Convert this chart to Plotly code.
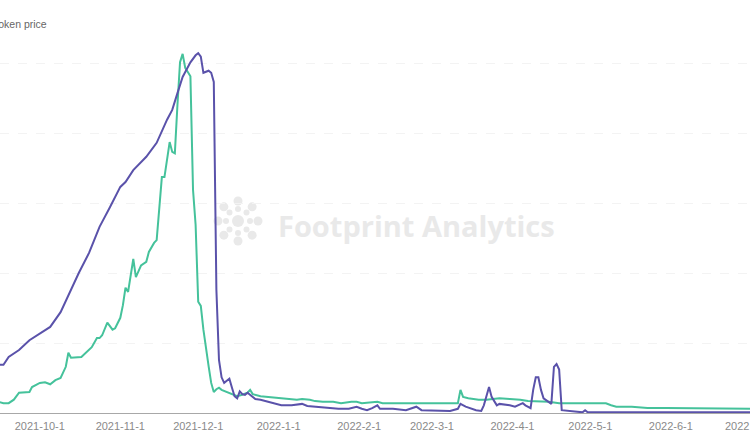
import plotly.graph_objects as go
import math

# ---- data ----
purple_dates = ["2021-09-13","2021-09-15","2021-09-17","2021-09-19","2021-09-23","2021-09-27","2021-10-01","2021-10-05","2021-10-09","2021-10-13","2021-10-16","2021-10-20","2021-10-24","2021-10-28","2021-11-01","2021-11-03","2021-11-06","2021-11-11","2021-11-15","2021-11-19","2021-11-21","2021-11-23","2021-11-25","2021-11-28","2021-11-30","2021-12-01","2021-12-02","2021-12-03","2021-12-05","2021-12-06","2021-12-07","2021-12-08","2021-12-09","2021-12-10","2021-12-11","2021-12-12","2021-12-13","2021-12-14","2021-12-15","2021-12-16","2021-12-17","2021-12-18","2021-12-19","2021-12-20","2021-12-21","2021-12-23","2021-12-25","2021-12-28","2022-01-02","2022-01-06","2022-01-10","2022-01-12","2022-01-15","2022-01-18","2022-01-20","2022-01-24","2022-01-28","2022-01-31","2022-02-02","2022-02-04","2022-02-06","2022-02-08","2022-02-09","2022-02-14","2022-02-19","2022-02-23","2022-02-25","2022-03-03","2022-03-08","2022-03-11","2022-03-12","2022-03-14","2022-03-18","2022-03-20","2022-03-21","2022-03-23","2022-03-24","2022-03-26","2022-03-27","2022-03-31","2022-04-02","2022-04-05","2022-04-06","2022-04-08","2022-04-09","2022-04-10","2022-04-11","2022-04-12","2022-04-13","2022-04-16","2022-04-17","2022-04-18","2022-04-19","2022-04-20","2022-04-22","2022-04-28","2022-04-29","2022-04-30","2022-05-05","2022-05-23","2022-06-07","2022-06-22","2022-07-02"]
purple_values = [0.69,0.69,0.69,0.80,0.90,1.04,1.14,1.23,1.44,1.76,2.00,2.29,2.66,2.94,3.23,3.30,3.47,3.66,3.86,4.19,4.33,4.57,4.80,5.01,5.11,5.14,5.09,4.86,4.89,4.86,4.73,1.76,0.76,0.51,0.43,0.46,0.49,0.36,0.24,0.21,0.31,0.27,0.26,0.29,0.26,0.20,0.19,0.16,0.11,0.11,0.13,0.10,0.09,0.07,0.07,0.06,0.06,0.09,0.06,0.04,0.07,0.11,0.06,0.06,0.04,0.09,0.04,0.03,0.03,0.06,0.13,0.09,0.04,0.03,0.11,0.37,0.23,0.11,0.13,0.11,0.09,0.14,0.11,0.07,0.33,0.51,0.51,0.33,0.21,0.13,0.66,0.70,0.62,0.04,0.03,0.01,0.04,0.01,0.01,0.01,0.01,0.02,0.01]

green_dates = ["2021-09-13","2021-09-15","2021-09-17","2021-09-19","2021-09-21","2021-09-23","2021-09-27","2021-09-28","2021-10-01","2021-10-03","2021-10-05","2021-10-07","2021-10-09","2021-10-11","2021-10-12","2021-10-13","2021-10-17","2021-10-19","2021-10-21","2021-10-23","2021-10-24","2021-10-25","2021-10-27","2021-10-29","2021-10-30","2021-11-01","2021-11-02","2021-11-03","2021-11-04","2021-11-06","2021-11-07","2021-11-09","2021-11-11","2021-11-12","2021-11-14","2021-11-15","2021-11-17","2021-11-18","2021-11-19","2021-11-20","2021-11-21","2021-11-22","2021-11-23","2021-11-24","2021-11-25","2021-11-26","2021-11-27","2021-11-28","2021-11-29","2021-11-30","2021-12-01","2021-12-02","2021-12-03","2021-12-04","2021-12-05","2021-12-06","2021-12-07","2021-12-08","2021-12-09","2021-12-10","2021-12-12","2021-12-14","2021-12-16","2021-12-18","2021-12-20","2021-12-21","2021-12-22","2021-12-25","2021-12-28","2021-12-31","2022-01-04","2022-01-08","2022-01-10","2022-01-13","2022-01-15","2022-01-18","2022-01-22","2022-01-25","2022-01-29","2022-01-31","2022-02-02","2022-02-08","2022-02-10","2022-02-15","2022-02-20","2022-02-25","2022-03-03","2022-03-08","2022-03-11","2022-03-12","2022-03-13","2022-03-15","2022-03-19","2022-03-22","2022-03-24","2022-03-27","2022-03-31","2022-04-04","2022-04-07","2022-04-11","2022-04-15","2022-04-19","2022-04-28","2022-05-05","2022-05-07","2022-05-09","2022-05-11","2022-05-17","2022-05-23","2022-05-30","2022-06-08","2022-06-12","2022-07-02"]
green_values = [0.16,0.16,0.14,0.14,0.19,0.29,0.30,0.37,0.43,0.44,0.41,0.47,0.50,0.66,0.86,0.79,0.80,0.87,0.94,1.07,1.07,1.11,1.29,1.19,1.21,1.36,1.54,1.79,1.73,2.20,1.94,2.11,2.16,2.30,2.43,2.47,3.37,3.37,3.61,3.87,3.73,3.71,4.40,5.01,5.13,4.93,4.87,4.81,3.19,2.69,1.59,1.53,1.19,0.90,0.67,0.43,0.30,0.34,0.36,0.33,0.30,0.26,0.24,0.26,0.29,0.33,0.27,0.24,0.23,0.21,0.20,0.19,0.20,0.19,0.17,0.16,0.16,0.14,0.16,0.16,0.14,0.16,0.14,0.14,0.14,0.13,0.14,0.14,0.14,0.33,0.23,0.21,0.19,0.19,0.20,0.21,0.20,0.19,0.17,0.17,0.16,0.14,0.14,0.13,0.14,0.11,0.09,0.09,0.07,0.07,0.07,0.06,0.06]

tick_dates = ["2021-10-01","2021-11-01","2021-12-01","2022-01-01","2022-02-01","2022-03-01","2022-04-01","2022-05-01","2022-06-01","2022-07-01"]
tick_labels = ["2021-10-1","2021-11-1","2021-12-1","2022-1-1","2022-2-1","2022-3-1","2022-4-1","2022-5-1","2022-6-1","2022-7-1"]
cut_label = "2022"   # visible part of the last tick label, cut by the right edge

W, H = 750, 447
ML, MR, MT, MB = 0, 0, 40, 34
PW, PH = W - ML - MR, H - MT - MB

def px(x):
    return (x - ML) / PW

def py(y):
    return (H - MB - y) / PH

fig = go.Figure()
fig.add_trace(go.Scatter(x=green_dates, y=green_values, mode="lines",
                         line=dict(color="#45c29b", width=2), name="green"))
fig.add_trace(go.Scatter(x=purple_dates, y=purple_values, mode="lines",
                         line=dict(color="#5a52aa", width=2), name="purple"))

# watermark logo
shapes = []
wm = "#e9e9e9"
cx, cy = 238, 221
shapes.append(dict(type="circle", xref="paper", yref="paper", layer="below",
                   x0=px(cx-6), x1=px(cx+6), y0=py(cy+6), y1=py(cy-6),
                   fillcolor=wm, line=dict(width=0)))
for k in range(8):
    a = math.radians(90 - k * 45)
    for r, s in ((12, 3), (20, 4.5)):
        x = cx + r * math.cos(a)
        y = cy - r * math.sin(a)
        shapes.append(dict(type="circle", xref="paper", yref="paper", layer="below",
                           x0=px(x-s), x1=px(x+s), y0=py(y+s), y1=py(y-s),
                           fillcolor=wm, line=dict(width=0)))

tick_font = dict(family="Liberation Sans, Arial", size=11, color="#8a8a8a")

fig.update_layout(
    width=W, height=H,
    margin=dict(l=ML, r=MR, t=MT, b=MB, pad=0),
    paper_bgcolor="white", plot_bgcolor="white",
    showlegend=False,
    shapes=shapes,
    xaxis=dict(type="date", range=["2021-09-15 16:00", "2022-07-01 12:00"],
               tickvals=tick_dates, ticktext=tick_labels,
               showgrid=False, zeroline=False,
               showline=True, linecolor="#a8a8a8", linewidth=1,
               ticks="", ticklabelstandoff=3, tickfont=tick_font),
    yaxis=dict(range=[0, PH / 70], dtick=1, showticklabels=False,
               showgrid=True, gridcolor="#f3f3f3", griddash="dash", gridwidth=1,
               zeroline=False, showline=False),
    annotations=[
        dict(text="Token price", xref="paper", yref="paper", x=0, y=1,
             xanchor="left", yanchor="middle", xshift=-9, yshift=MT - 24,
             showarrow=False, font=dict(family="Liberation Sans, Arial", size=10.5, color="#666666")),
        dict(text="<b>Footprint Analytics</b>", xref="paper", yref="paper",
             x=px(416), y=py(225), xanchor="center", yanchor="middle",
             showarrow=False, font=dict(family="Open Sans", size=29, color=wm)),
        dict(text=cut_label, xref="paper", yref="paper", x=1, y=0,
             xanchor="right", yanchor="middle", yshift=-13, xshift=1,
             showarrow=False, font=tick_font),
    ],
)

fig.write_html("out.html", config={"displayModeBar": False},
               post_script="document.body.style.margin='0';")
